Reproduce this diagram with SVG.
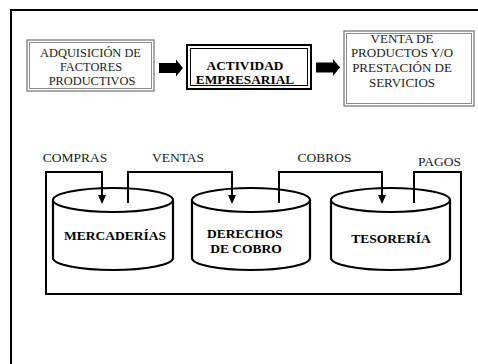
<svg xmlns="http://www.w3.org/2000/svg" width="478" height="364" viewBox="0 0 478 364">
<style>
.t{font-family:"Liberation Serif","DejaVu Serif","Times New Roman",serif;font-size:12.4px;fill:#222;text-anchor:middle}
.v{font-size:13px}
.b{font-weight:bold;font-size:13.5px;fill:#000}
.a{font-size:13.3px}
.l{font-size:13.5px}
.ln{fill:none;stroke:#000;stroke-width:2}
.cyl{fill:#fff;stroke:#000;stroke-width:2.2}
.gb{fill:#fff;stroke:#707070;stroke-width:1.2}
.gi{fill:none;stroke:#8c8c8c;stroke-width:1}
.ah{fill:#000}
</style>
<rect width="478" height="364" fill="#fff"/>
<path d="M11,364 V10 H478" fill="none" stroke="#000" stroke-width="2"/>

<g id="box-adquisicion">
<rect class="gb" x="27" y="40" width="127" height="51"/>
<rect class="gi" x="29.5" y="42.5" width="122" height="46"/>
<text class="t" x="90.5" y="57">ADQUISICIÓN DE</text>
<text class="t" x="91" y="71">FACTORES</text>
<text class="t" x="92" y="85">PRODUCTIVOS</text>
</g>

<g id="box-actividad">
<rect x="187" y="45" width="124" height="44" fill="#fff" stroke="#000" stroke-width="2"/>
<rect x="190.5" y="48.5" width="117" height="37" fill="none" stroke="#000" stroke-width="1"/>
<text class="t b a" x="245" y="70">ACTIVIDAD</text>
<text class="t b a" x="245" y="83.5">EMPRESARIAL</text>
</g>

<g id="box-venta">
<rect class="gb" x="344" y="31" width="130" height="75"/>
<rect class="gi" x="346.5" y="33.5" width="125" height="70"/>
<text class="t v" x="402" y="43">VENTA DE</text>
<text class="t v" x="402" y="57">PRODUCTOS Y/O</text>
<text class="t v" x="402" y="72">PRESTACIÓN DE</text>
<text class="t v" x="402" y="87">SERVICIOS</text>
</g>

<g id="cyl-mercaderias">
<path class="cyl" d="M53,200 V258 A60,12 0 0 0 173,258 V200"/>
<ellipse class="cyl" cx="113" cy="200" rx="60" ry="12"/>
<text class="t b" x="115" y="240">MERCADERÍAS</text>
</g>

<g id="cyl-derechos">
<path class="cyl" d="M192,200 V258 A59,12 0 0 0 310,258 V200"/>
<ellipse class="cyl" cx="251" cy="200" rx="59" ry="12"/>
<text class="t b" x="245" y="238">DERECHOS</text>
<text class="t b" x="246" y="253">DE COBRO</text>
</g>

<g id="cyl-tesoreria">
<path class="cyl" d="M331,200 V258 A59.5,12 0 0 0 450,258 V200"/>
<ellipse class="cyl" cx="390.5" cy="200" rx="59.5" ry="12"/>
<text class="t b" x="391" y="243">TESORERÍA</text>
</g>

<g id="connectors">
<polygon points="159,63 176,63 176,59.5 183,68 176,76.5 176,73 159,73" fill="#000"/>
<polygon points="316,62.5 333,62.5 333,59 340,67.5 333,76 333,72.5 316,72.5" fill="#000"/>
<path class="ln" d="M102,195 V172 H46 V294 H461 V172 H414 V203"/>
<path class="ah" d="M98,195 L106,195 L102,204 Z"/>
<path class="ln" d="M128,203 V172 H232 V195"/>
<path class="ah" d="M228,195 L236,195 L232,204 Z"/>
<path class="ln" d="M279,203 V172 H382 V195"/>
<path class="ah" d="M378,195 L386,195 L382,204 Z"/>
</g>

<g id="labels">
<text class="t l" x="75" y="162">COMPRAS</text>
<text class="t l" x="178" y="162">VENTAS</text>
<text class="t l" x="324.5" y="162">COBROS</text>
<text class="t l" x="439.5" y="166">PAGOS</text>
</g>
</svg>
